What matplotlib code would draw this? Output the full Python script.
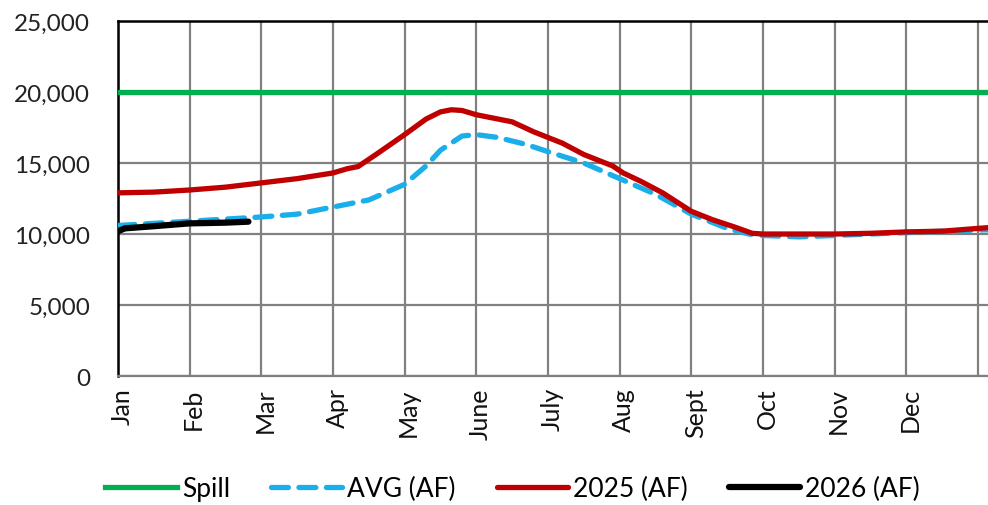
import numpy as np
import matplotlib.pyplot as plt
from matplotlib.transforms import ScaledTranslation

# reservoir storage by month (x = months since Jan 1)
months = ['Jan', 'Feb', 'Mar', 'Apr', 'May', 'June', 'July', 'Aug', 'Sept', 'Oct', 'Nov', 'Dec']
spill_af = 20000

x_2025 = [0.0, 0.5, 1.0, 1.5, 2.0, 2.5, 3.0, 3.2, 3.35, 3.6, 4.0, 4.3, 4.5, 4.65, 4.8,
          5.0, 5.2, 5.5, 5.8, 6.0, 6.2, 6.5, 6.9, 7.05, 7.3, 7.6, 8.0, 8.3, 8.6, 8.85,
          9.0, 9.5, 10.0, 10.5, 11.0, 11.5, 12.14]
v_2025 = [12900, 12950, 13100, 13300, 13600, 13900, 14300, 14600, 14750, 15600, 17000,
          18100, 18600, 18750, 18700, 18400, 18200, 17900, 17200, 16800, 16400, 15600,
          14800, 14300, 13700, 12900, 11600, 11000, 10500, 10050,
          10000, 10000, 10000, 10050, 10150, 10200, 10450]

x_avg = [0.0, 0.5, 1.0, 1.5, 2.0, 2.5, 3.0, 3.5, 4.0, 4.3, 4.5, 4.8, 5.0, 5.3, 5.7,
         6.0, 6.5, 7.0, 7.5, 8.0, 8.5, 8.8, 9.0, 9.5, 10.0, 10.5, 11.0, 11.5, 12.14]
v_avg = [10600, 10750, 10900, 11050, 11200, 11400, 11900, 12400, 13500, 14800, 15900,
         16900, 17000, 16800, 16300, 15800, 15000, 13900, 12800, 11400, 10400, 10000,
         9900, 9800, 9900, 10000, 10100, 10200, 10300]

x_2026 = [0.0, 0.1, 0.5, 1.0, 1.5, 1.82]
v_2026 = [10200, 10400, 10550, 10750, 10800, 10870]

plt.rcParams['font.family'] = ['Lato', 'DejaVu Sans']

fig = plt.figure(figsize=(9.88, 5.06), dpi=100)
ax = fig.add_axes([0.1194, 0.2549, 0.8806, 0.7016])

ax.axhline(spill_af, color='#00B050', lw=3.8, label='Spill', zorder=3)
ax.plot(x_avg, v_avg, color='#1AAFEA', lw=3.8, ls=(0, (3.2, 2.0)),
        dash_capstyle='round', label='AVG (AF)', zorder=3)
ax.plot(x_2025, v_2025, color='#C00000', lw=3.8, solid_capstyle='round',
        label='2025 (AF)', zorder=4)
ax.plot(x_2026, v_2026, color='black', lw=4.5, solid_capstyle='round',
        label='2026 (AF)', zorder=5)

ax.set_xlim(0, 12.14)
ax.set_ylim(0, 25000)
ax.set_xticks(np.arange(13))
ax.set_xticklabels(months + [''], rotation=90, fontsize=18, ha='center', va='top',
                   color='#111111')
ax.set_yticks(np.arange(0, 25001, 5000))
ax.set_yticklabels([f'{v:,}' for v in range(0, 25001, 5000)], fontsize=17.5, color='#222222')
ax.tick_params(axis='y', length=0, pad=20)
ax.tick_params(axis='x', length=0, pad=8)
# month names sit just right of their gridline
shift = ScaledTranslation(4 / 100, 0, fig.dpi_scale_trans)
for lbl in ax.get_xticklabels():
    lbl.set_transform(lbl.get_transform() + shift)

ax.grid(True, color='#808080', lw=1.6, zorder=0)
ax.set_axisbelow(True)
for side in ['left', 'top']:
    ax.spines[side].set_color('black')
    ax.spines[side].set_linewidth(1.8)
ax.spines['bottom'].set_color('#808080')
ax.spines['bottom'].set_linewidth(1.6)
ax.spines['right'].set_visible(False)

leg = fig.legend(loc='center', bbox_to_anchor=(0.519, 0.032), ncol=4, frameon=False,
                 fontsize=19, handlelength=2.7, handletextpad=0.2, columnspacing=1.55)

fig.savefig('out.png', dpi=100)
